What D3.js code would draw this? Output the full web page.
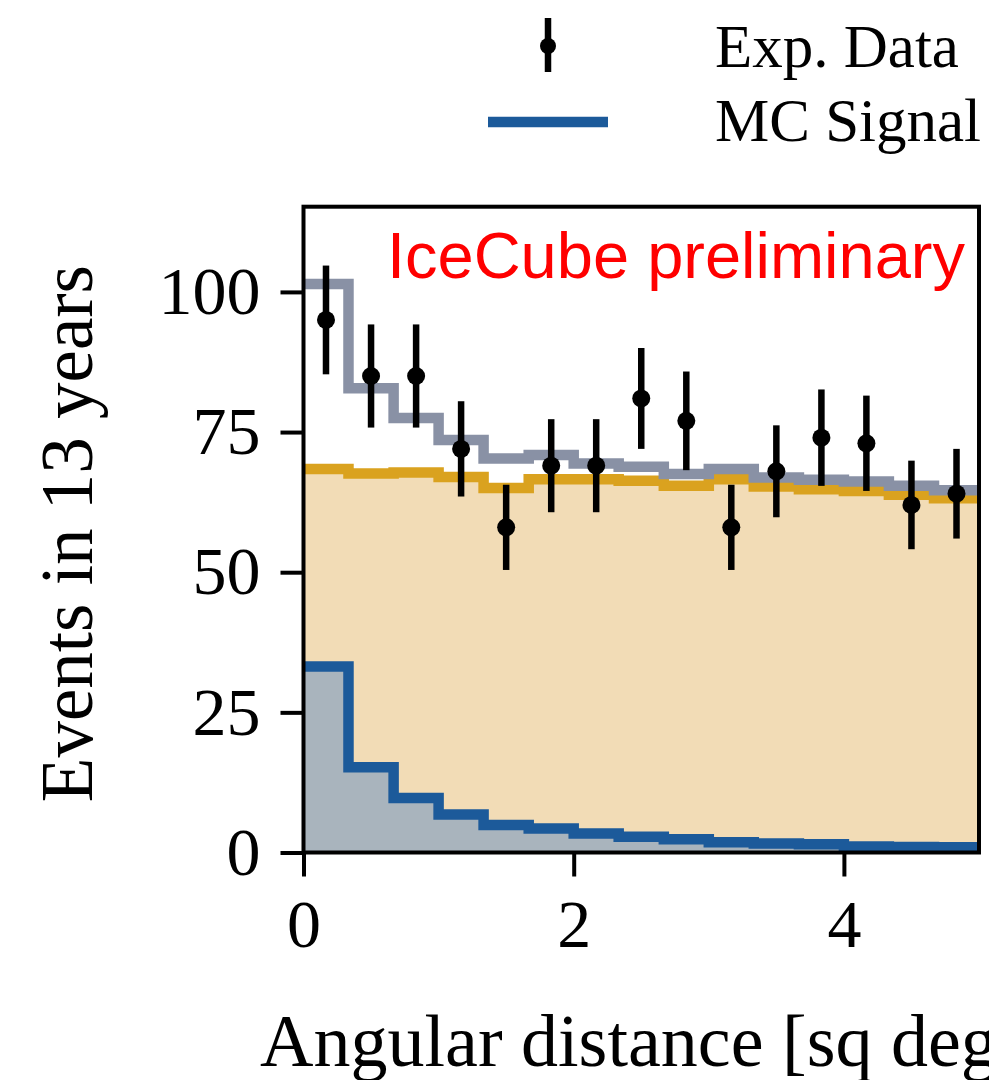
<!DOCTYPE html>
<html>
<head>
<meta charset="utf-8">
<script src="https://cdn.jsdelivr.net/npm/d3@7"></script>
<style>
	body { margin: 0; background: #fff; }
	svg { display: block; }
</style>
</head>
<body>
<svg id="chart"></svg>
<script>

// bin edges in sq deg (15 bins)
var edges = [0, 0.333, 0.667, 1.0, 1.333, 1.667, 2.0, 2.333, 2.667, 3.0, 3.333, 3.667, 4.0, 4.333, 4.667, 5.0];

// observed events per bin and their errors
var dataCounts = [95, 85, 85, 72, 58, 69, 69, 81, 77, 58, 68, 74, 73, 62, 64];
var dataErrors = [9.7, 9.2, 9.2, 8.5, 7.6, 8.3, 8.3, 9.0, 8.8, 7.6, 8.2, 8.6, 8.5, 7.9, 8.0];

// expectation histograms
var background = [68.4, 67.6, 67.8, 67.0, 65.0, 66.6, 66.6, 66.3, 65.4, 66.6, 65.3, 64.8, 64.5, 63.8, 63.2];
var signal = [33.2, 15.2, 9.7, 6.8, 4.9, 4.3, 3.4, 2.8, 2.35, 1.85, 1.6, 1.45, 1.05, 1.0, 0.95];
var total = [101.4, 82.8, 77.5, 73.6, 70.3, 70.9, 69.4, 68.8, 67.5, 68.4, 66.9, 66.5, 66.2, 65.4, 64.6];

var xTicks = [0, 2, 4];
var yTicks = [0, 25, 50, 75, 100];

var W = 989, H = 1080;
var plot = { left: 303.5, right: 979, top: 206.7, bottom: 852.5 };

var serif = "'Liberation Serif', 'Times New Roman', serif";

var svg = d3.select("#chart")
	.attr("width", W)
	.attr("height", H);

var x = d3.scaleLinear()
	.domain([0, 5])
	.range([plot.left, plot.right]);

var y = d3.scaleLinear()
	.domain([0, 115.2])
	.range([plot.bottom, plot.top]);

// turn a per-bin array into step points (extra point closes the last bin)
function steps(values) {
	var pts = values.map(function(v, i) { return { x: edges[i], y: v }; });
	pts.push({ x: edges[edges.length - 1], y: values[values.length - 1] });
	return pts;
}

var line = d3.line()
	.x(function(d) { return x(d.x); })
	.y(function(d) { return y(d.y); })
	.curve(d3.curveStepAfter);

var area = d3.area()
	.x(function(d) { return x(d.x); })
	.y0(y(0))
	.y1(function(d) { return y(d.y); })
	.curve(d3.curveStepAfter);

svg.append("clipPath")
	.attr("id", "clip")
	.append("rect")
	.attr("x", plot.left)
	.attr("y", plot.top)
	.attr("width", plot.right - plot.left)
	.attr("height", plot.bottom - plot.top);

var g = svg.append("g").attr("clip-path", "url(#clip)");

g.append("path")
	.attr("d", area(steps(background)))
	.style("fill", "#f2dcb6");

g.append("path")
	.attr("d", area(steps(signal)))
	.style("fill", "#a9b4bd");

g.append("path")
	.attr("d", line(steps(background)))
	.style("fill", "none")
	.style("stroke", "#daa21f")
	.style("stroke-width", 10.5);

g.append("path")
	.attr("d", line(steps(total)))
	.style("fill", "none")
	.style("stroke", "#8991a5")
	.style("stroke-width", 10.5);

g.append("path")
	.attr("d", line(steps(signal)))
	.style("fill", "none")
	.style("stroke", "#1c5a9a")
	.style("stroke-width", 10.5);

// data points with error bars
var centers = dataCounts.map(function(d, i) { return (edges[i] + edges[i + 1]) / 2; });

var pts = svg.append("g").selectAll("g.pt")
	.data(dataCounts)
	.enter().append("g")
	.attr("class", "pt");

pts.append("line")
	.attr("x1", function(d, i) { return x(centers[i]); })
	.attr("x2", function(d, i) { return x(centers[i]); })
	.attr("y1", function(d, i) { return y(d - dataErrors[i]); })
	.attr("y2", function(d, i) { return y(d + dataErrors[i]); })
	.style("stroke", "#000")
	.style("stroke-width", 6.5);

pts.append("circle")
	.attr("cx", function(d, i) { return x(centers[i]); })
	.attr("cy", function(d) { return y(d); })
	.attr("r", 9)
	.style("fill", "#000");

// axes
var xAxis = d3.axisBottom(x).tickValues(xTicks).tickSize(24).tickPadding(22).tickFormat(d3.format("d"));
var yAxis = d3.axisLeft(y).tickValues(yTicks).tickSize(23).tickPadding(20).tickFormat(d3.format("d"));

svg.append("g")
	.attr("class", "x axis")
	.attr("transform", "translate(0," + plot.bottom + ")")
	.call(xAxis);

svg.append("g")
	.attr("class", "y axis")
	.attr("transform", "translate(" + plot.left + ",0)")
	.call(yAxis);

svg.selectAll(".axis path").remove();
svg.selectAll(".axis line")
	.style("stroke", "#000")
	.style("stroke-width", 4);
svg.selectAll(".axis text")
	.style("font-family", serif)
	.style("font-size", "68px")
	.style("fill", "#000");

// frame
svg.append("rect")
	.attr("x", plot.left)
	.attr("y", plot.top)
	.attr("width", plot.right - plot.left)
	.attr("height", plot.bottom - plot.top)
	.style("fill", "none")
	.style("stroke", "#000")
	.style("stroke-width", 4);

// labels
svg.append("text")
	.attr("x", 965)
	.attr("y", 278)
	.style("text-anchor", "end")
	.style("font-family", "'Liberation Sans', Arial, sans-serif")
	.style("font-size", "65px")
	.style("fill", "#ff0000")
	.text("IceCube preliminary");

svg.append("text")
	.attr("transform", "translate(92," + ((plot.top + plot.bottom) / 2 + 4) + ") rotate(-90)")
	.style("text-anchor", "middle")
	.style("font-family", serif)
	.style("font-size", "73px")
	.text("Events in 13 years");

// axis title runs past the right edge, as in the original figure
svg.append("text")
	.attr("x", (plot.left + plot.right) / 2)
	.attr("y", 1066)
	.style("text-anchor", "middle")
	.style("font-family", serif)
	.style("font-size", "74px")
	.text("Angular distance [sq deg]");

// legend
var legend = svg.append("g");

legend.append("line")
	.attr("x1", 548).attr("x2", 548)
	.attr("y1", 18).attr("y2", 72)
	.style("stroke", "#000")
	.style("stroke-width", 6.5);

legend.append("circle")
	.attr("cx", 548).attr("cy", 46).attr("r", 8)
	.style("fill", "#000");

legend.append("line")
	.attr("x1", 488).attr("x2", 608)
	.attr("y1", 122).attr("y2", 122)
	.style("stroke", "#1c5a9a")
	.style("stroke-width", 10.5);

legend.selectAll("text.leg")
	.data(["Exp. Data", "MC Signal"])
	.enter().append("text")
	.attr("class", "leg")
	.attr("x", 715)
	.attr("y", function(d, i) { return 67 + i * 74; })
	.style("font-family", serif)
	.style("font-size", "61px")
	.text(function(d) { return d; });

</script>
</body>
</html>
